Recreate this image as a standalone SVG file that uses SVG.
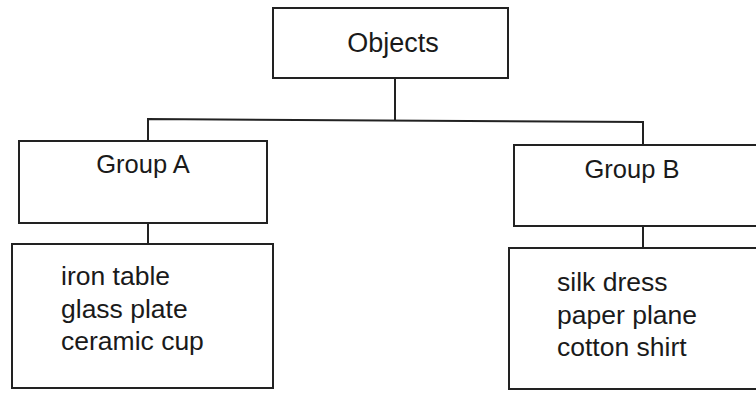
<svg xmlns="http://www.w3.org/2000/svg" width="756" height="393" viewBox="0 0 756 393">
<style>
.box{fill:#fff;stroke:#222;stroke-width:2}
.conn{fill:none;stroke:#222;stroke-width:2}
text{font-family:"Liberation Sans",Arial,sans-serif;fill:#1a1a1a}
.t{font-size:27px;text-anchor:middle}
.g{font-size:25.5px;text-anchor:middle}
.l{font-size:26.5px}
</style>
<rect width="756" height="393" fill="#fff"/>
<g id="connectors">
<path class="conn" d="M395 78 V120"/>
<path class="conn" d="M148 141 V119 L643 122 V145"/>
<path class="conn" d="M148 223 V244"/>
<path class="conn" d="M643 226 V248"/>
</g>
<g id="objects">
<rect class="box" x="273" y="8" width="235" height="70"/>
<text class="t" x="393" y="52">Objects</text>
</g>
<g id="groupA">
<rect class="box" x="19" y="141" width="248" height="82"/>
<text class="g" x="143" y="173">Group A</text>
</g>
<g id="groupB">
<rect class="box" x="514" y="145" width="260" height="81"/>
<text class="g" x="632" y="178">Group B</text>
</g>
<g id="listA">
<rect class="box" x="12" y="244" width="261" height="144"/>
<text class="l" x="61" y="285">iron table</text>
<text class="l" x="61" y="318">glass plate</text>
<text class="l" x="61" y="350">ceramic cup</text>
</g>
<g id="listB">
<rect class="box" x="509" y="248" width="265" height="141"/>
<text class="l" x="557" y="291">silk dress</text>
<text class="l" x="557" y="324">paper plane</text>
<text class="l" x="557" y="356">cotton shirt</text>
</g>
</svg>
